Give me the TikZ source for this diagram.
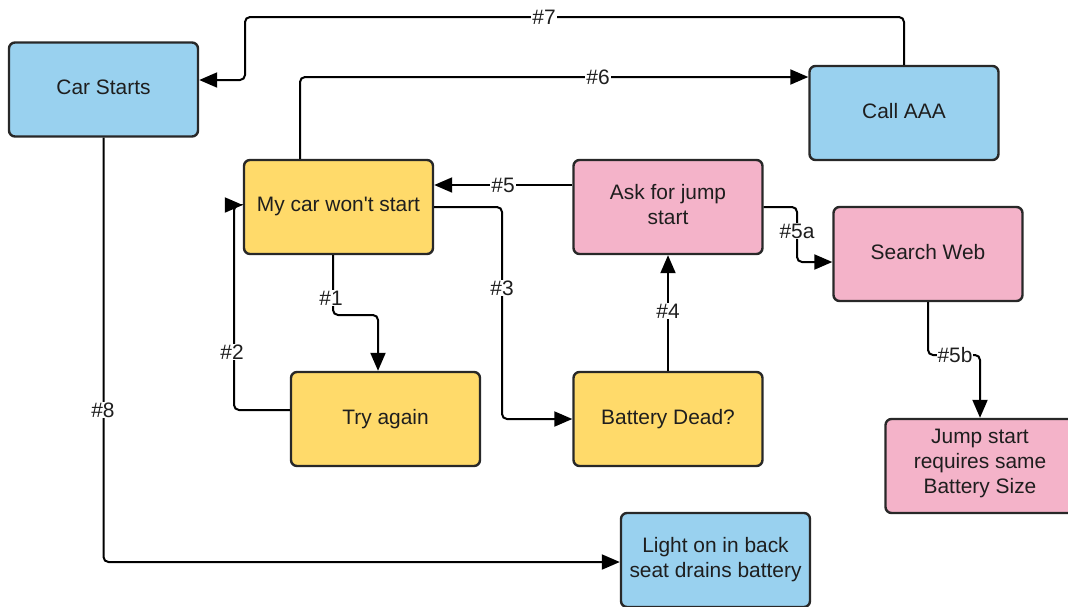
\documentclass[tikz,border=0pt]{standalone}
\usepackage{fontspec}
\setmainfont{Liberation Sans}
\usetikzlibrary{arrows.meta}
\definecolor{bluebox}{RGB}{153,209,239}
\definecolor{yellowbox}{RGB}{255,218,106}
\definecolor{pinkbox}{RGB}{244,179,201}
\definecolor{edgecol}{RGB}{40,40,40}
\definecolor{textcol}{RGB}{30,30,30}
\tikzset{
  box/.style={draw=edgecol, line width=1.2pt, rounded corners=3pt, minimum width=94.5pt, minimum height=47pt,
    align=center, text=textcol, font=\fontsize{10.45pt}{12.5pt}\selectfont, inner sep=2pt, text depth=2.5pt},
  bluebx/.style={box, fill=bluebox},
  yellowbx/.style={box, fill=yellowbox},
  pinkbx/.style={box, fill=pinkbox},
  conn/.style={draw=black, line width=1pt, rounded corners=2.5pt, -{Triangle[length=9pt,width=7.5pt]}},
  lbl/.style={fill=white, inner sep=0.5pt, text=textcol, font=\fontsize{10.45pt}{12.5pt}\selectfont},
}
\begin{document}
\begin{tikzpicture}[x=0.5pt,y=-0.5pt]
\useasboundingbox (0,0) rectangle (1068,606);
% nodes
\node[bluebx] (cs) at (103.5,89.5) {Car Starts};
\node[bluebx] (aaa) at (904,113) {Call AAA};
\node[yellowbx] (car) at (338.5,207) {My car won\textquotesingle t start};
\node[pinkbx] (ask) at (668,207) {Ask for jump\\start};
\node[pinkbx] (web) at (928,254) {Search Web};
\node[yellowbx] (try) at (385.5,419) {Try again};
\node[yellowbx] (bat) at (668,419) {Battery Dead?};
\node[pinkbx, text depth=4.5pt] (jump) at (980,466) {Jump start\\requires same\\Battery Size};
\node[bluebx] (light) at (715.5,560) {Light on in back\\seat drains battery};
% connectors
\draw[conn] (aaa.north) |- (245,17) |- ([yshift=4.75pt]cs.east);
\node[lbl] (l7) at (544,17) {\#7};
\draw[conn] ([xshift=-19.25pt]car.north) |- ([yshift=18pt]aaa.west);
\node[lbl] (l6) at (598,77) {\#6};
\draw[conn] ([yshift=11pt]ask.west) -- ([yshift=11pt]car.east);
\node[lbl] (l5) at (503,185) {\#5};
\draw[conn] (car.east) -| (502,419) -- (bat.west);
\node[lbl] (l3) at (502,288) {\#3};
\draw[conn] (bat.north) -- (ask.south);
\node[lbl] (l4) at (668,311) {\#4};
\draw[conn] ([xshift=-2.75pt]car.south) |- (378,315) -- ([xshift=-3.75pt]try.north);
\node[lbl] (l1) at (331,298) {\#1};
\draw[conn] ([yshift=4.5pt]try.west) -| (234,205) -- ([yshift=1pt]car.west);
\node[lbl] (l2) at (232,352) {\#2};
\draw[conn] (ask.east) -| (797,262) -- ([yshift=-4pt]web.west);
\node[lbl] (l5a) at (797,231) {\#5a};
\draw[conn] (web.south) |- (980,355) -- (jump.north);
\node[lbl] (l5b) at (955,355) {\#5b};
\draw[conn] (cs.south) |- ([yshift=-1pt]light.west);
\node[lbl] (l8) at (103,410) {\#8};
\end{tikzpicture}
\end{document}
